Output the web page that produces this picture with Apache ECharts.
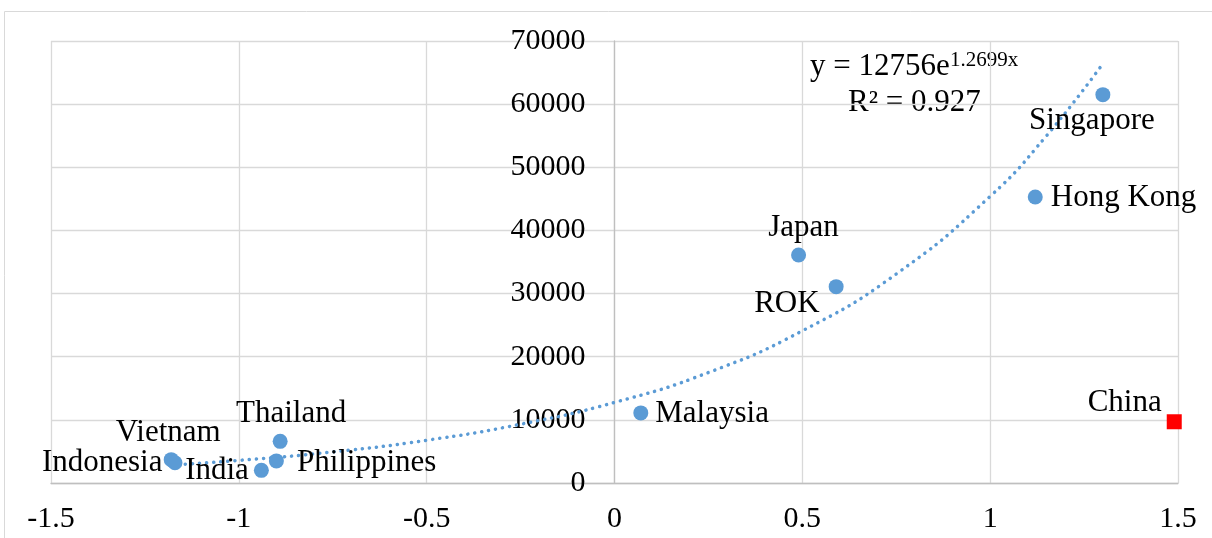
<!DOCTYPE html>
<html>
<head>
<meta charset="utf-8">
<script src="https://cdn.jsdelivr.net/npm/echarts@6/dist/echarts.min.js"></script>
<style>
  html, body { margin: 0; padding: 0; background: #fff; }
  #chart { width: 1212px; height: 538px; }
</style>
</head>
<body>
<div id="chart"></div>
<script>
// countries (blue points)
const countries = ['Vietnam', 'Indonesia', 'India', 'Philippines', 'Thailand', 'Malaysia', 'Japan', 'ROK', 'Hong Kong', 'Singapore'];
const xValues = [-1.18, -1.17, -0.94, -0.90, -0.89, 0.07, 0.49, 0.59, 1.12, 1.30];
const yValues = [3700, 3200, 2000, 3500, 6600, 11100, 36100, 31100, 45300, 61500];

// China (red square)
const chinaName = 'China';
const chinaX = 1.49;
const chinaY = 9700;

// dotted trendline
const trendX = [-1.18, -1.0, -0.75, -0.5, -0.25, 0, 0.25, 0.5, 0.75, 1.0, 1.15, 1.3];
const trendY = [2850, 3580, 4920, 6770, 9310, 12760, 17500, 24100, 33100, 45400, 55000, 66400];

const xTicks = [-1.5, 1.5, 0.5];      // min, max, interval
const yTicks = [0, 70000, 10000];

const font = "'Liberation Serif', 'Times New Roman', serif";
const blue = '#5b9bd5';

// label placement per country
const labelPlace = {
  'Vietnam': { position: 'top', offset: [-3, 1] },
  'Indonesia': { position: 'left', offset: [0, 0] },
  'India': { position: 'left', offset: [0, 0] },
  'Philippines': { position: 'right', offset: [8, 2] },
  'Thailand': { position: 'top', offset: [11, 1] },
  'Malaysia': { position: 'right', offset: [2, 1] },
  'Japan': { position: 'top', offset: [5, 1] },
  'ROK': { position: 'left', offset: [-4, 17] },
  'Hong Kong': { position: 'right', offset: [3, 1] },
  'Singapore': { position: 'bottom', offset: [-11, -2] },
  'China': { position: 'left', offset: [0, -19] }
};

const pointData = countries.map((name, i) => ({
  name: name,
  value: [xValues[i], yValues[i]],
  label: labelPlace[name]
}));

const gridLeft = 51;
const gridRight = 34;

const chart = echarts.init(document.getElementById('chart'));

// the value axis sits at x = 0, i.e. halfway across the plot
const plotWidth = 1212 - gridLeft - gridRight;

chart.setOption({
  animation: false,
  textStyle: { fontFamily: font },
  grid: { left: gridLeft, right: gridRight, top: 41, bottom: 55, containLabel: false, outerBoundsMode: 'none' },
  graphic: [
    {
      type: 'rect',
      shape: { x: 4.5, y: 11.5, width: 1240, height: 560 },
      style: { fill: 'none', stroke: '#d9d9d9', lineWidth: 1 },
      z: -1
    },
    {
      type: 'text',
      left: 810, top: 51,
      style: { text: 'y = 12756e', fontSize: 31, fontFamily: font, fill: '#000' }
    },
    {
      type: 'text',
      left: 950, top: 50,
      style: { text: '1.2699x', fontSize: 21, fontFamily: font, fill: '#000' }
    },
    {
      type: 'text',
      left: 848, top: 87,
      style: { text: 'R² = 0.927', fontSize: 31, fontFamily: font, fill: '#000' }
    }
  ],
  xAxis: {
    type: 'value',
    min: xTicks[0],
    max: xTicks[1],
    interval: xTicks[2],
    axisLine: { show: true, onZero: false, lineStyle: { color: '#bfbfbf', width: 1.3 } },
    axisTick: { show: false },
    axisLabel: { color: '#000', fontSize: 30, fontFamily: font, margin: 21 },
    splitLine: { show: true, lineStyle: { color: '#d9d9d9', width: 1.3 } }
  },
  yAxis: {
    type: 'value',
    position: 'left',
    offset: -plotWidth / 2,
    min: yTicks[0],
    max: yTicks[1],
    interval: yTicks[2],
    axisLine: { show: true, onZero: false, lineStyle: { color: '#bfbfbf', width: 1.3 } },
    axisTick: { show: false },
    axisLabel: { color: '#000', fontSize: 30, fontFamily: font, margin: 29, formatter: v => String(v) },
    splitLine: { show: true, lineStyle: { color: '#d9d9d9', width: 1.3 } }
  },
  series: [
    {
      type: 'line',
      smooth: true,
      symbol: 'none',
      data: trendX.map((x, i) => [x, trendY[i]]),
      lineStyle: { color: blue, width: 3.5, type: [0.1, 7], cap: 'round' },
      z: 2
    },
    {
      type: 'scatter',
      symbol: 'circle',
      symbolSize: 15,
      itemStyle: { color: blue, opacity: 1 },
      label: {
        show: true,
        formatter: '{b}',
        color: '#000',
        fontSize: 31,
        fontFamily: font
      },
      data: pointData,
      z: 3
    },
    {
      type: 'scatter',
      symbol: 'rect',
      symbolSize: 15,
      itemStyle: { color: '#ff0000', opacity: 1 },
      label: {
        show: true,
        formatter: '{b}',
        color: '#000',
        fontSize: 31,
        fontFamily: font
      },
      data: [{ name: chinaName, value: [chinaX, chinaY], label: labelPlace[chinaName] }],
      z: 3
    }
  ]
});
</script>
</body>
</html>
